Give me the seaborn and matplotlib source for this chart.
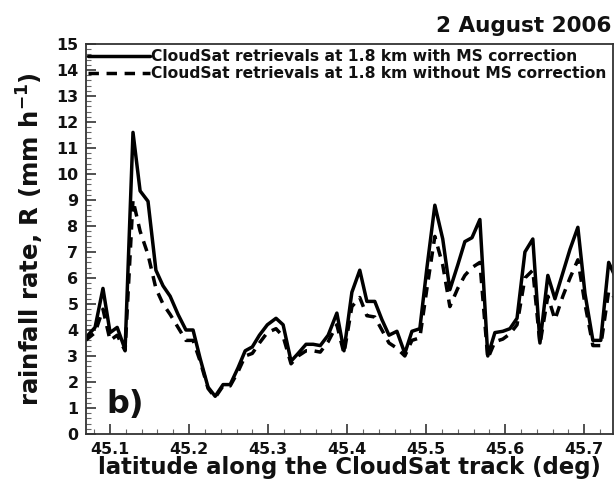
import matplotlib
matplotlib.use("Agg")
import matplotlib.pyplot as plt
from matplotlib.ticker import MultipleLocator
import numpy as np
import pandas as pd
import seaborn as sns

# Latitude along the CloudSat ground track (deg)
latitude = [
    45.069, 45.081, 45.091, 45.100, 45.109, 45.119, 45.129, 45.138, 45.148, 45.158,
    45.167, 45.176, 45.186, 45.196, 45.205, 45.214, 45.224, 45.233, 45.243, 45.252,
    45.262, 45.271, 45.280, 45.289, 45.299, 45.310, 45.319, 45.329, 45.338, 45.348,
    45.357, 45.366, 45.376, 45.387, 45.396, 45.406, 45.416, 45.425, 45.435, 45.444,
    45.453, 45.463, 45.473, 45.482, 45.492, 45.501, 45.511, 45.521, 45.530, 45.540,
    45.549, 45.558, 45.568, 45.578, 45.587, 45.597, 45.606, 45.615, 45.625, 45.635,
    45.644, 45.654, 45.663, 45.673, 45.682, 45.692, 45.701, 45.711, 45.721, 45.731,
    45.740,
]

# Rain rate retrieved with multiple-scattering correction (mm/h)
rain_with_ms = [
    3.7, 4.1, 5.6, 3.9, 4.1, 3.25, 11.6, 9.35, 8.95, 6.3,
    5.7, 5.3, 4.6, 4.0, 4.0, 2.9, 1.8, 1.45, 1.9, 1.9,
    2.55, 3.2, 3.35, 3.8, 4.2, 4.45, 4.2, 2.8, 3.1, 3.45,
    3.45, 3.4, 3.8, 4.65, 3.2, 5.45, 6.3, 5.1, 5.1, 4.4,
    3.8, 3.95, 3.1, 3.95, 4.05, 6.4, 8.8, 7.5, 5.55, 6.5,
    7.4, 7.55, 8.25, 3.0, 3.9, 3.95, 4.05, 4.45, 7.0, 7.5,
    3.5, 6.1, 5.2, 6.2, 7.1, 7.95, 5.4, 3.6, 3.6, 6.6,
    6.0,
]

# Rain rate retrieved without multiple-scattering correction (mm/h)
rain_without_ms = [
    3.6, 3.9, 4.8, 3.6, 3.8, 3.2, 9.0, 7.8, 6.9, 5.6,
    5.0, 4.6, 4.1, 3.6, 3.6, 2.8, 1.75, 1.4, 1.85, 1.85,
    2.4, 3.0, 3.1, 3.5, 3.9, 4.05, 3.75, 2.7, 3.0, 3.2,
    3.2, 3.15, 3.55, 4.2, 3.1, 4.9, 5.25, 4.55, 4.5, 4.0,
    3.5, 3.3, 3.0, 3.6, 3.7, 5.6, 7.6, 6.5, 4.9, 5.6,
    6.1, 6.4, 6.6, 2.9, 3.55, 3.65, 3.85, 4.2, 6.0, 6.3,
    3.45, 5.3, 4.4, 5.3, 6.0, 6.7, 5.0, 3.4, 3.4, 5.5,
    5.2,
]

series_labels = [
    "CloudSat retrievals at 1.8 km with MS correction",
    "CloudSat retrievals at 1.8 km without MS correction",
]
y_ticks = list(range(0, 16))
x_ticks = [45.1, 45.2, 45.3, 45.4, 45.5, 45.6, 45.7]

df = pd.DataFrame({"lat": latitude, "with": rain_with_ms, "without": rain_without_ms})

sns.set_theme(style="ticks")
plt.rcParams["font.family"] = ["DejaVu Sans"]
plt.rcParams["font.weight"] = "bold"
plt.rcParams["mathtext.default"] = "bf"

fig = plt.figure(figsize=(6.15, 4.82), dpi=100)
ax = fig.add_axes([0.1398, 0.0996, 0.857, 0.8091])

sns.lineplot(data=df, x="lat", y="with", ax=ax, color="black", linewidth=2.5,
             label=series_labels[0], sort=False)
sns.lineplot(data=df, x="lat", y="without", ax=ax, color="black", linewidth=2.5,
             linestyle=(0, (3.0, 2.2)), label=series_labels[1], sort=False)

ax.set_xlim(45.0695, 45.7365)
ax.set_ylim(0, 15)
ax.set_xticks(x_ticks)
ax.set_yticks(y_ticks)
ax.xaxis.set_minor_locator(MultipleLocator(0.02))
ax.yaxis.set_minor_locator(MultipleLocator(0.2))
ax.tick_params(which="major", direction="in", length=7, width=1.2, color="#333333",
               labelsize=11.4, labelcolor="#111111")
ax.tick_params(axis="y", which="major", pad=5.5)
ax.tick_params(axis="x", which="major", pad=6.0)
ax.tick_params(which="minor", direction="in", length=3.5, width=0.8, color="#666666")
for lab in ax.get_xticklabels() + ax.get_yticklabels():
    lab.set_fontweight("bold")
for sp in ax.spines.values():
    sp.set_color("#333333")
    sp.set_linewidth(1.3)

ax.set_xlabel("latitude along the CloudSat track (deg)", fontsize=16.4,
              fontweight="bold", labelpad=-1, color="#111111")
ax.set_ylabel("rainfall rate, R (mm h$^{-1}$)", fontsize=17.6,
              fontweight="bold", labelpad=7.5, color="#111111")

ax.text(0.9962, 1.031, "2 August 2006", transform=ax.transAxes, ha="right",
        va="baseline", fontsize=15.5, fontweight="bold", color="#111111")
ax.text(0.038, 0.054, "b)", transform=ax.transAxes, ha="left", va="baseline",
        fontsize=23, fontweight="bold", color="#111111")

leg = ax.legend(loc="upper left", bbox_to_anchor=(0.0, 0.99), frameon=False,
                handlelength=4.0, handletextpad=0.1, borderaxespad=0.0,
                borderpad=0.1, labelspacing=0.12,
                prop={"size": 11.2, "weight": "bold"})
for t in leg.get_texts():
    t.set_color("#111111")

fig.savefig("out.png", dpi=100)
